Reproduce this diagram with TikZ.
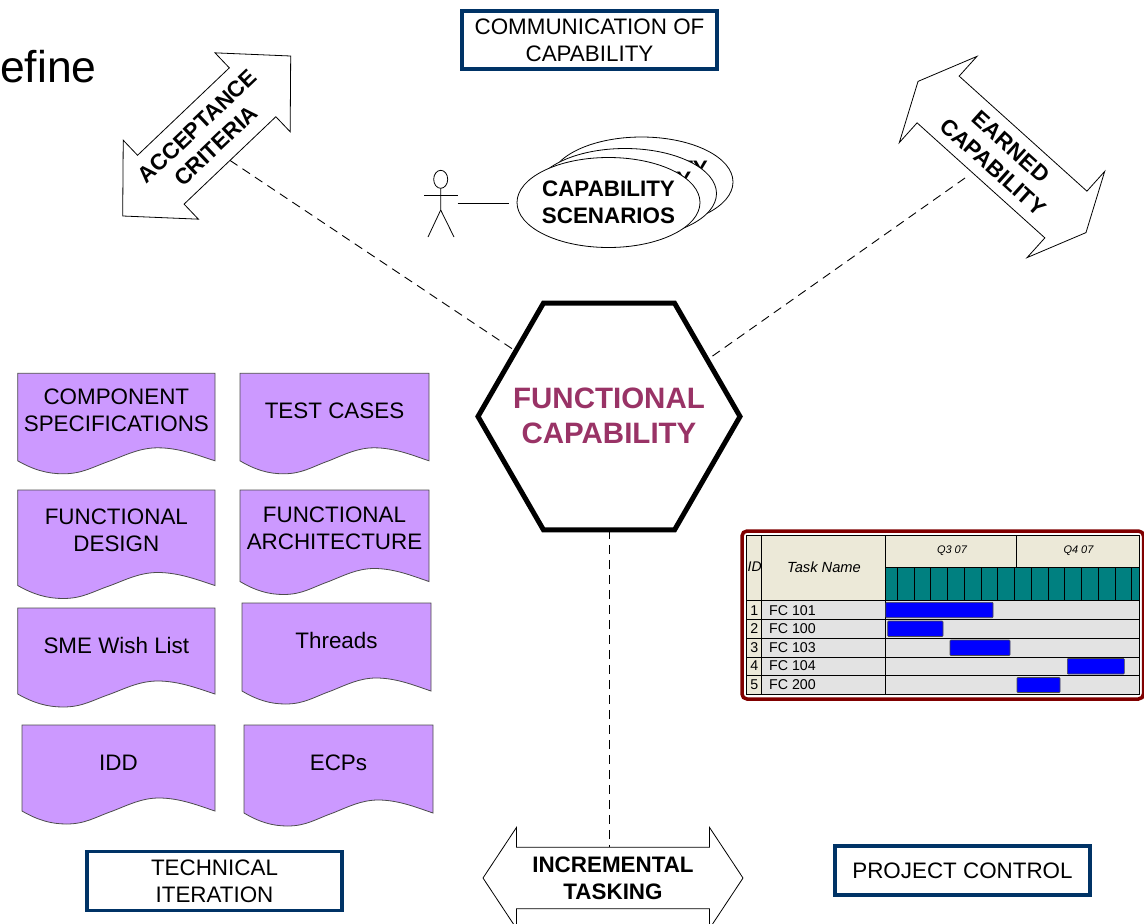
\documentclass[tikz,border=0pt]{standalone}
\usepackage{fontspec}
\setmainfont{Liberation Sans}
\usetikzlibrary{positioning,shapes.geometric,shapes.arrows}

\definecolor{navyline}{HTML}{003366}
\definecolor{docviolet}{HTML}{CC99FF}
\definecolor{hexplum}{HTML}{993366}
\definecolor{ganttred}{HTML}{800000}
\definecolor{gantthead}{HTML}{ECE9D8}
\definecolor{gantteal}{HTML}{008080}
\definecolor{ganttrow}{HTML}{E3E3E3}

\tikzset{
  plainfont/.style={font=\fontsize{22.4}{27}\selectfont, align=center},
  boldfont/.style={font=\fontsize{22.4}{27}\selectfont\bfseries, align=center},
  labelbox/.style={plainfont, draw=navyline, line width=3.5pt, fill=white, minimum width=255pt, inner sep=0pt},
  scenario/.style={boldfont, ellipse, draw, line width=0.8pt, fill=white, minimum width=183pt, minimum height=90pt, inner xsep=-2.3pt, inner ysep=0pt},
  bigarrow/.style={boldfont, double arrow, draw, line width=0.8pt, fill=white, inner xsep=0pt, outer sep=0pt},
  docfill/.style={draw=black!70, line width=0.8pt, fill=docviolet},
  linkline/.style={dashed, dash pattern=on 9pt off 6pt, line width=0.9pt},
  stickline/.style={line width=0.8pt},
  ganttline/.style={draw=black, line width=1pt},
  ganttbar/.style={fill=blue, draw=black!70, line width=0.6pt, rounded corners=0.8pt},
  ganttext/.style={font=\fontsize{14.2}{16}\selectfont, inner sep=0pt},
}

\newcommand{\specdoc}[7]{
  \begin{scope}[shift={(#2,#3)}, x=#4pt, y=-1pt]
    \path[docfill] (0,0) -- (1,0) -- (1,#5)
      .. controls (0.92,#5-5) and (0.82,#5-13) .. (0.71,#5-13)
      .. controls (0.62,#5-13) and (0.55,#5-6) .. (0.47,#5)
      .. controls (0.38,#5+6) and (0.33,#5+13) .. (0.23,#5+13)
      .. controls (0.15,#5+13) and (0.08,#5+9) .. (0,#5) -- cycle;
    \node[plainfont, inner sep=0pt] (#1) at (0.5,#6) {#7};
  \end{scope}
}

\begin{document}
\begin{tikzpicture}[x=1pt, y=-1pt]
  \clip (0,0) rectangle (1144,924);

  \node[anchor=base west, inner sep=0pt, font=\fontsize{44.5}{44}\selectfont] (title) at (0,82) {efine};

  \node[regular polygon, regular polygon sides=6, draw, line width=5pt, minimum size=262pt, inner sep=0pt, outer sep=0pt] (hexa) at (609,416.5) {};
  \node[font=\fontsize{29.5}{35}\selectfont\bfseries, align=center, text=hexplum, yshift=1pt] (hexatext) at (hexa) {FUNCTIONAL\\CAPABILITY};

  \node[labelbox, minimum height=58pt, above=232.5pt of hexa, xshift=-19.5pt] (commbox) {COMMUNICATION OF\\CAPABILITY};
  \node[labelbox, minimum height=59pt] (techbox) at (214.5,881) {TECHNICAL\\ITERATION};
  \node[labelbox, minimum height=49pt] (projbox) at (962.5,870.5) {PROJECT CONTROL};

  \node[bigarrow, inner ysep=7.4pt, rotate=43.6, minimum height=232pt, minimum width=109pt, double arrow head extend=18pt, double arrow tip angle=92] (accept) at (206.7,136) {ACCEPTANCE\\CRITERIA};
  \node[bigarrow, inner ysep=5.5pt, rotate=-42, minimum height=226pt, minimum width=116pt, double arrow head extend=23pt, double arrow tip angle=130] (earned) at (1002,157) {EARNED\\CAPABILITY};
  \node[bigarrow, inner ysep=4.5pt, minimum height=260pt, minimum width=101pt, double arrow head extend=17pt, double arrow tip angle=113] (tasking) at (613,878) {INCREMENTAL\\TASKING};

  \coordinate (earnfoot) at (965,178);
  \draw[linkline] (accept.south) -- (hexa.145);
  \draw[linkline] (earnfoot) -- (hexa.30);
  \draw[linkline] (hexa.south) -- (hexa.south |- tasking.north);

  \node[scenario] (scenback) at (641.5,182) {CAPABILITY\\SCENARIOS};
  \node[scenario, xshift=-16.5pt, yshift=-11.5pt] (scenmid) at (scenback) {CAPABILITY\\SCENARIOS};
  \node[scenario, xshift=-16.5pt, yshift=-9pt] (scenfront) at (scenmid) {CAPABILITY\\SCENARIOS};

  \draw[stickline] (440.7,179.3) ellipse (7pt and 9pt);
  \draw[stickline] (440.7,188.3) -- (440.7,210) -- (428,237);
  \draw[stickline] (440.7,210) -- (454,237);
  \draw[stickline] (424,195) -- (458,195);
  \coordinate (actorhand) at (457.5,203);
  \draw[line width=0.9pt, shorten >=8pt] (actorhand) -- (actorhand -| scenfront.west);

  \specdoc{compdoc}{17.7}{373.3}{197.3}{87.5}{36.7}{COMPONENT\\SPECIFICATIONS}
  \specdoc{testdoc}{240}{373.3}{189}{87.5}{37.7}{TEST CASES}
  \specdoc{funcdoc}{17.7}{490}{197.3}{95.5}{40}{FUNCTIONAL\\DESIGN}
  \specdoc{archdoc}{240}{490}{189}{91.5}{38.5}{FUNCTIONAL\\ARCHITECTURE}
  \specdoc{smedoc}{17.7}{608}{197.3}{86}{37}{SME Wish List}
  \specdoc{threaddoc}{242}{603}{189}{88}{37}{Threads}
  \specdoc{idddoc}{22}{725}{193}{86}{38}{IDD}
  \specdoc{ecpdoc}{244}{725}{189}{88}{38}{ECPs}

  \draw[draw=ganttred, line width=3.5pt, fill=white, rounded corners=5pt] (742,531) rectangle (1143.5,699);
  \fill[gantthead] (746.7,535) rectangle (1139,600.7);
  \fill[gantteal] (885,567.3) rectangle (1139,600.7);
  \fill[gantthead] (746.7,600.7) rectangle (761.7,694);
  \fill[ganttrow] (761.7,600.7) rectangle (1139,694);
  \foreach \i in {0,...,14}
    \draw[ganttline] ({897.3+16.75*\i},567.3) -- ({897.3+16.75*\i},600.7);
  \foreach \ya in {600.7,619.3,638.3,657,675.7}
    \draw[ganttline] (746.7,\ya) -- (1139,\ya);
  \draw[ganttline] (885,567.3) -- (1139,567.3);
  \draw[ganttline] (1016.7,535) -- (1016.7,567.3);
  \draw[ganttline] (761.7,535) -- (761.7,694);
  \draw[ganttline] (885,535) -- (885,694);
  \draw[ganttline] (746.7,535) rectangle (1139,694);

  \foreach \ya/\yb/\xa/\xb in {602.3/617.7/885.7/993, 621/636.5/887.7/943, 640/655.5/950/1010, 658.5/674/1067.3/1124.3, 677.5/692.5/1017/1060}
    \path[ganttbar] (\xa,\ya) rectangle (\xb,\yb);

  \foreach \n/\t/\y in {1/FC 101/610.5, 2/FC 100/628.5, 3/FC 103/647.5, 4/FC 104/666, 5/FC 200/684.5} {
    \node[ganttext] (rowid\n) at (754.2,\y) {\n};
    \node[ganttext, anchor=west] (rowname\n) at (769,\y) {\t};
  }
  \node[ganttext, font=\fontsize{14}{16}\selectfont\itshape] (idhead) at (754.7,567) {ID};
  \node[ganttext, font=\fontsize{14.7}{16}\selectfont\itshape] (namehead) at (824,567) {Task Name};
  \node[ganttext, font=\fontsize{11}{12}\selectfont\itshape] (qthree) at (952,551) {Q3 07};
  \node[ganttext, font=\fontsize{11}{12}\selectfont\itshape] (qfour) at (1078.5,551) {Q4 07};
\end{tikzpicture}
\end{document}
